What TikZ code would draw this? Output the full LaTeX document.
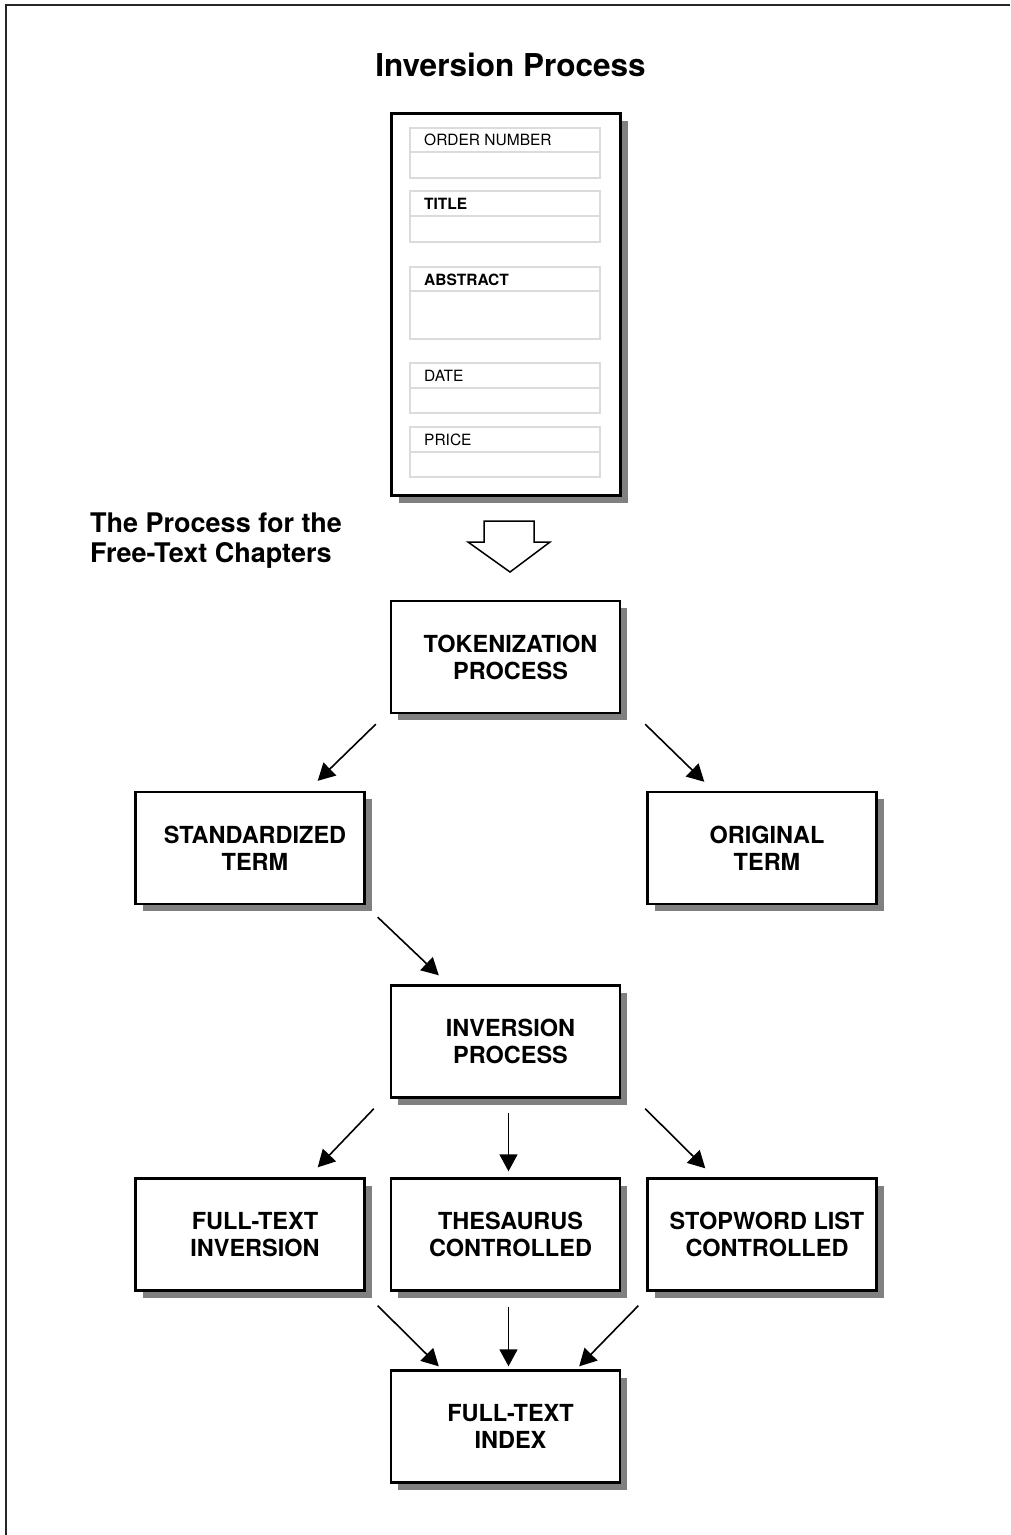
\documentclass[tikz,border=0pt]{standalone}
\usepackage{fontspec}
\setmainfont{TeX Gyre Heros}
\usetikzlibrary{arrows.meta,calc,shadows}

% two-line box label, nudged a little to the right of the box centre
\newcommand\boxlines[2]{\hspace*{10pt}#1\\\hspace*{10pt}#2}

\begin{document}
\begin{tikzpicture}[x=1pt,y=-1pt,
  shadowed/.style={general shadow={fill=black!50, shadow xshift=7pt, shadow yshift=-7pt}},
  box/.style={draw, line width=2.4pt, fill=white, shadowed,
    minimum width=229pt, minimum height=112pt, inner sep=0pt,
    font=\fontsize{23.5}{27}\selectfont\bfseries, align=center},
  field/.style={draw=black!14, line width=2pt},
  flabel/.style={anchor=west, inner sep=0pt, font=\fontsize{15.5}{18}\selectfont},
  arr/.style={line width=1.6pt, -{Triangle[length=17pt,width=18pt]}},
]
\useasboundingbox (0,0) rectangle (1010,1535);

% page frame (top and left edges)
\draw[line width=2pt, black!85] (1010,5) -- (6,5) -- (6,1535);

% heading
\node[anchor=base, inner sep=0pt, font=\fontsize{31.5}{36}\selectfont\bfseries] (head) at (510.5,76) {Inversion Process};

% record form
\node[draw, line width=2.4pt, fill=white, shadowed, minimum width=229pt, minimum height=382pt] (form) at (506,304.5) {};
\draw[field] (410,128) rectangle (600,178);  \draw[field] (410,152) -- (600,152);
\draw[field] (410,191) rectangle (600,242);  \draw[field] (410,216) -- (600,216);
\draw[field] (410,267) rectangle (600,339);  \draw[field] (410,291) -- (600,291);
\draw[field] (410,363) rectangle (600,413);  \draw[field] (410,388) -- (600,388);
\draw[field] (410,427) rectangle (600,477);  \draw[field] (410,452) -- (600,452);
\node[flabel] (lorder) at (424,140) {ORDER NUMBER};
\node[flabel, font=\fontsize{15.5}{18}\selectfont\bfseries] (ltitle) at (424,203.5) {TITLE};
\node[flabel, font=\fontsize{15.5}{18}\selectfont\bfseries] (labs) at (424,279.5) {ABSTRACT};
\node[flabel] (ldate) at (424,375.5) {DATE};
\node[flabel] (lprice) at (424,439.5) {PRICE};

% side caption
\node[anchor=north west, inner sep=0pt, align=left, font=\fontsize{27}{30}\selectfont\bfseries] (caption) at (90,513) {The Process for the\\Free-Text Chapters};

% hollow down arrow
\draw[line width=1.5pt, fill=white, line join=miter]
  (484,521) -- (534,521) -- (534,542) -- (550,542) -- (510,572) -- (468,542) -- (484,542) -- cycle;

% process boxes
\node[box] (tok)  at (505.5,657)    {\boxlines{TOKENIZATION}{PROCESS}};
\node[box] (std)  at (250,848)      {\boxlines{STANDARDIZED}{TERM}};
\node[box] (orig) at (762,848)      {\boxlines{ORIGINAL}{TERM}};
\node[box] (inv)  at (505.5,1041.5) {\boxlines{INVERSION}{PROCESS}};
\node[box] (ft)   at (250,1234.5)   {\boxlines{FULL-TEXT}{INVERSION}};
\node[box] (thes) at (505.5,1234.5) {\boxlines{THESAURUS}{CONTROLLED}};
\node[box] (stop) at (762,1234.5)   {\boxlines{STOPWORD LIST}{CONTROLLED}};
\node[box] (idx)  at (505.5,1426.5) {\boxlines{FULL-TEXT}{INDEX}};

% connectors
\draw[arr] ($(tok.south west)+(-14,10)$) -- ($(std.north east)+(-48,-10)$);
\draw[arr] ($(tok.south east)+(24,10)$)  -- ($(orig.north west)+(58,-9)$);
\draw[arr] ($(std.south east)+(12,12)$)  -- ($(inv.north west)+(49,-9)$);
\draw[arr] ($(inv.south west)+(-16,10)$) -- ($(ft.north east)+(-48,-10)$);
\draw[arr] ($(inv.south)+(3,14)$)        -- ($(thes.north)+(3,-6)$);
\draw[arr] ($(inv.south east)+(24,10)$)  -- ($(stop.north west)+(59,-9)$);
\draw[arr] ($(ft.south east)+(12,14)$)   -- ($(idx.north west)+(49,-3)$);
\draw[arr] ($(thes.south)+(3,15)$)       -- ($(idx.north)+(3,-3)$);
\draw[arr] ($(stop.south west)+(-8,14)$) -- ($(idx.north east)+(-42,-3)$);
\end{tikzpicture}
\end{document}
